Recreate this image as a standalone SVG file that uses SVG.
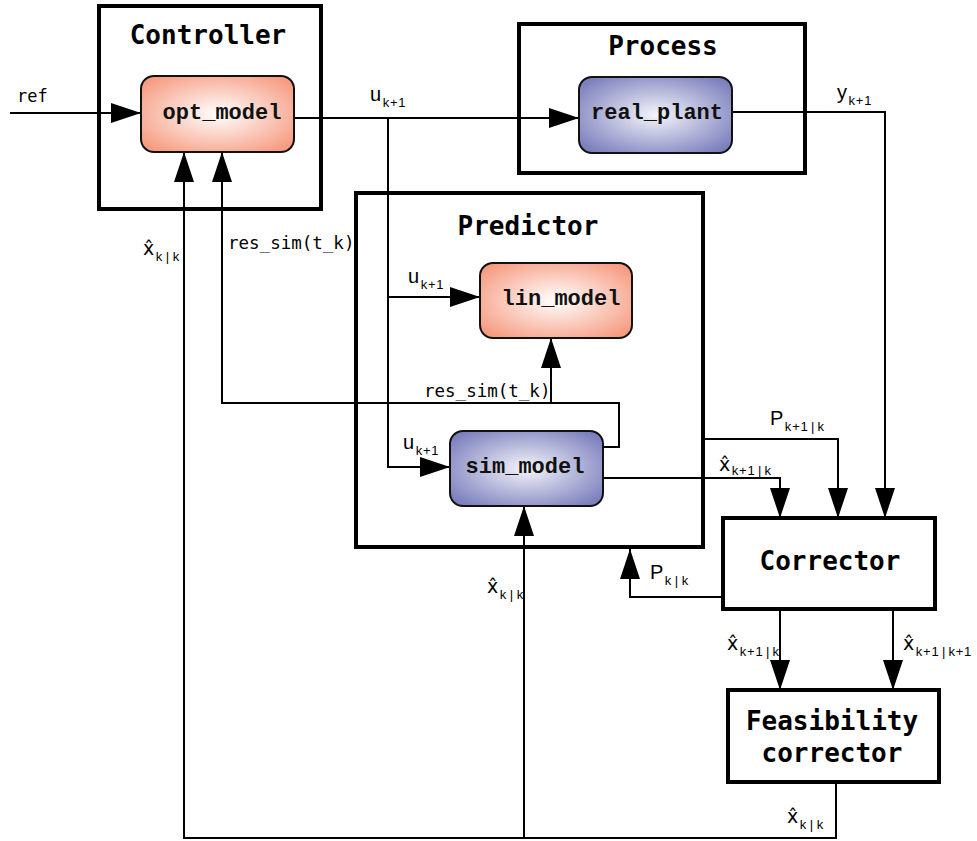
<svg xmlns="http://www.w3.org/2000/svg" width="977" height="841" viewBox="0 0 977 841">
<style>
.frame{fill:none;stroke:#000;stroke-width:4}
.blk{fill:#fff;stroke:#000;stroke-width:4}
.node{stroke:#111;stroke-width:2}
.title{font-family:"DejaVu Sans Mono",monospace;font-weight:bold;font-size:26px;text-anchor:middle;fill:#000}
.lbl{font-family:"Courier New","Liberation Mono",monospace;font-weight:bold;font-size:22px;text-anchor:middle;fill:#111}
.sig{font-family:"Liberation Sans","DejaVu Sans",Arial,sans-serif;font-size:20px;fill:#000}
.hx{font-family:"DejaVu Sans",sans-serif;font-size:19px;fill:#000}
.sub{font-family:"Liberation Sans",Arial,sans-serif;font-size:13px}
.mono{font-family:"DejaVu Sans Mono",monospace;font-size:17.5px;fill:#000}
.wire{fill:none;stroke:#000;stroke-width:2}
.arr{marker-end:url(#ah)}
</style>
<defs>
<radialGradient id="gRed" cx="50%" cy="50%" r="62%">
<stop offset="0" stop-color="#ffffff"/>
<stop offset="1" stop-color="#f69c82"/>
</radialGradient>
<radialGradient id="gBlue" cx="50%" cy="50%" r="62%">
<stop offset="0" stop-color="#f4f4fa"/>
<stop offset="1" stop-color="#7c80bd"/>
</radialGradient>
<marker id="ah" markerUnits="userSpaceOnUse" viewBox="0 0 30 20" markerWidth="30" markerHeight="20" refX="30" refY="10" orient="auto">
<path d="M0,0 L30,10 L0,20 z" fill="#000"/>
</marker>
</defs>

<g id="connectors">
<path class="wire arr" d="M10,113 H141"/>
<path class="wire arr" d="M294,118 H579"/>
<path class="wire arr" d="M388,118 V467 H450"/>
<path class="wire arr" d="M388,297 H480"/>
<path class="wire arr" d="M731,112 H885 V518"/>
<path class="wire arr" d="M603,447 H619 V403 H222 V152"/>
<path class="wire arr" d="M551,403 V338"/>
<path class="wire arr" d="M836,782 V838 H184 V152"/>
<path class="wire arr" d="M524,838 V506"/>
<path class="wire arr" d="M703,439 H838 V518"/>
<path class="wire arr" d="M603,478 H780 V518"/>
<path class="wire arr" d="M723,597 H630 V549"/>
<path class="wire arr" d="M780,610 V690"/>
<path class="wire arr" d="M893,610 V690"/>
</g>

<g id="controller">
<rect class="frame" x="99" y="6" width="222" height="203"/>
<text class="title" x="208" y="44">Controller</text>
</g>
<g id="process">
<rect class="frame" x="519" y="24" width="286" height="149"/>
<text class="title" x="663" y="55">Process</text>
</g>
<g id="predictor">
<rect class="frame" x="356" y="193" width="347" height="354"/>
<text class="title" x="528" y="235">Predictor</text>
</g>

<g id="opt_model">
<rect class="node" x="141" y="76" width="153" height="76" rx="13" fill="url(#gRed)"/>
<text class="lbl" x="222" y="119">opt_model</text>
</g>
<g id="real_plant">
<rect class="node" x="579" y="77" width="153" height="76" rx="13" fill="url(#gBlue)"/>
<text class="lbl" x="657" y="119">real_plant</text>
</g>
<g id="lin_model">
<rect class="node" x="480" y="263" width="152" height="75" rx="13" fill="url(#gRed)"/>
<text class="lbl" x="561" y="305">lin_model</text>
</g>
<g id="sim_model">
<rect class="node" x="450" y="431" width="153" height="75" rx="13" fill="url(#gBlue)"/>
<text class="lbl" x="525" y="473">sim_model</text>
</g>

<g id="corrector">
<rect class="blk" x="723" y="518" width="212" height="91"/>
<text class="title" x="830" y="570">Corrector</text>
</g>
<g id="feasibility_corrector">
<rect class="blk" x="728" y="690" width="211" height="92"/>
<text class="title" x="832" y="730">Feasibility</text>
<text class="title" x="832" y="762">corrector</text>
</g>

<g id="labels">
<text class="mono" x="17" y="102" style="font-size:17px">ref</text>
<text class="mono" x="228" y="249">res_sim(t_k)</text>
<text class="mono" x="424" y="397">res_sim(t_k)</text>

<text class="sig" x="370" y="101">u<tspan class="sub" dx="1.5" dy="6" letter-spacing="0.8">k+1</tspan></text>
<text class="sig" x="837" y="99">y<tspan class="sub" dx="1.5" dy="6" letter-spacing="0.8">k+1</tspan></text>
<text class="sig" x="408" y="283">u<tspan class="sub" dx="1.5" dy="6" letter-spacing="0.8">k+1</tspan></text>
<text class="sig" x="403" y="449">u<tspan class="sub" dx="1.5" dy="6" letter-spacing="0.8">k+1</tspan></text>

<text class="sig" x="770" y="425">P<tspan class="sub" dx="1.5" dy="6" letter-spacing="0.8">k+1</tspan><tspan class="sub" dx="2.5">|</tspan><tspan class="sub" dx="3">k</tspan></text>
<text class="sig" x="650" y="579">P<tspan class="sub" dx="1.5" dy="6">k</tspan><tspan class="sub" dx="3.5">|</tspan><tspan class="sub" dx="3.5">k</tspan></text>

<text class="hx" x="143" y="255">x̂<tspan class="sub" dx="1.5" dy="6">k</tspan><tspan class="sub" dx="3.5">|</tspan><tspan class="sub" dx="3.5">k</tspan></text>
<text class="hx" x="487" y="593">x̂<tspan class="sub" dx="1.5" dy="6">k</tspan><tspan class="sub" dx="3.5">|</tspan><tspan class="sub" dx="3.5">k</tspan></text>
<text class="hx" x="787" y="823">x̂<tspan class="sub" dx="1.5" dy="6">k</tspan><tspan class="sub" dx="3.5">|</tspan><tspan class="sub" dx="3.5">k</tspan></text>
<text class="hx" x="719" y="471">x̂<tspan class="sub" dx="1.5" dy="4" letter-spacing="0.8">k+1</tspan><tspan class="sub" dx="2.5">|</tspan><tspan class="sub" dx="3">k</tspan></text>
<text class="hx" x="727" y="650">x̂<tspan class="sub" dx="1.5" dy="6" letter-spacing="0.8">k+1</tspan><tspan class="sub" dx="2.5">|</tspan><tspan class="sub" dx="3">k</tspan></text>
<text class="hx" x="903" y="650">x̂<tspan class="sub" dx="1.5" dy="6" letter-spacing="0.8">k+1</tspan><tspan class="sub" dx="2.5">|</tspan><tspan class="sub" dx="3" letter-spacing="0.8">k+1</tspan></text>
</g>
</svg>
